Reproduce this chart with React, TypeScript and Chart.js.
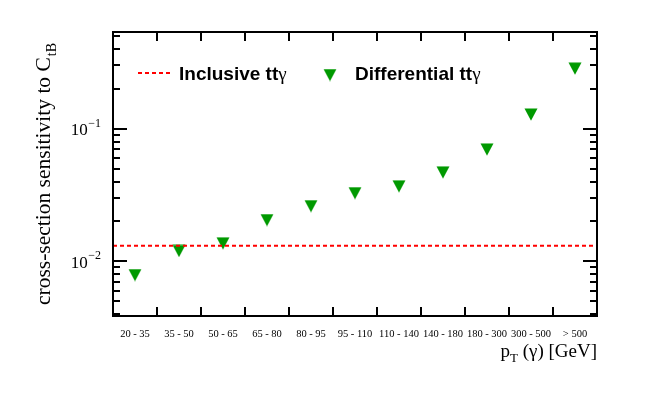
import React, { useEffect, useRef } from 'react';
import { Chart, registerables } from 'chart.js';
Chart.register(...registerables);

// ---- data ----
const binLabels = ['20 - 35', '35 - 50', '50 - 65', '65 - 80', '80 - 95', '95 - 110', '110 - 140', '140 - 180', '180 - 300', '300 - 500', '> 500'];
const differential = [0.0079, 0.0120, 0.0137, 0.0205, 0.0261, 0.0327, 0.0368, 0.0469, 0.0698, 0.128, 0.284];
const inclusive = 0.0131;
const yMin = 0.00388;
const yMax = 0.535;
const yLabelExponents = [-2, -1];

const GREEN = '#009900';
const RED = '#ff0000';
const SERIF = '"Liberation Serif", "Times New Roman", serif';
const SANS = '"Liberation Sans", Arial, sans-serif';

function makeMarker(): HTMLCanvasElement {
  const c = document.createElement('canvas');
  c.width = 14;
  c.height = 13;
  const g = c.getContext('2d')!;
  g.fillStyle = GREEN;
  g.beginPath();
  g.moveTo(0.5, 0.5);
  g.lineTo(13.5, 0.5);
  g.lineTo(7, 12.8);
  g.closePath();
  g.fill();
  return c;
}

export default function App() {
  const ref = useRef<HTMLCanvasElement>(null);
  useEffect(() => {
    const canvas = ref.current!;
    const marker = makeMarker();

    const rootStyle = {
      id: 'rootStyle',
      afterDraw(chart: any) {
        const ctx: CanvasRenderingContext2D = chart.ctx;
        const { left, right, top, bottom } = chart.chartArea;
        const xs = chart.scales.x;
        const ys = chart.scales.y;
        ctx.save();
        ctx.strokeStyle = '#000';
        ctx.lineWidth = 2;
        ctx.strokeRect(left, top, right - left, bottom - top);

        // y ticks (log)
        ctx.beginPath();
        for (let k = -4; k <= 0; k++) {
          for (let m = 1; m <= 9; m++) {
            const v = m * Math.pow(10, k);
            if (v < yMin || v > yMax) continue;
            const y = Math.round(ys.getPixelForValue(v));
            const len = m === 1 ? 14 : 7;
            ctx.moveTo(left, y);
            ctx.lineTo(left + len, y);
            ctx.moveTo(right, y);
            ctx.lineTo(right - len, y);
          }
        }
        // x ticks at bin edges
        for (let i = 1; i < binLabels.length; i++) {
          const x = Math.round(xs.getPixelForValue(i));
          ctx.moveTo(x, bottom);
          ctx.lineTo(x, bottom - 9);
          ctx.moveTo(x, top);
          ctx.lineTo(x, top + 9);
        }
        ctx.stroke();

        // x labels
        ctx.fillStyle = '#000';
        ctx.font = `10.5px ${SERIF}`;
        ctx.textAlign = 'center';
        ctx.textBaseline = 'alphabetic';
        binLabels.forEach((lab, i) => {
          ctx.fillText(lab, xs.getPixelForValue(i + 0.5), 336.5);
        });

        // y labels 10^k
        ctx.textAlign = 'left';
        yLabelExponents.forEach((e) => {
          const y = ys.getPixelForValue(Math.pow(10, e));
          const exp = '\u2212' + Math.abs(e);
          ctx.font = `12px ${SERIF}`;
          const we = ctx.measureText(exp).width;
          ctx.font = `17px ${SERIF}`;
          const wb = ctx.measureText('10').width;
          const xEnd = 101;
          const xe = xEnd - we;
          const xb = xe - wb - 0.5;
          ctx.fillText('10', xb, y + 6.5);
          ctx.font = `12px ${SERIF}`;
          ctx.fillText(exp, xe, y - 2);
        });

        // x title
        {
          const big = `19px ${SERIF}`;
          const small = `13px ${SERIF}`;
          ctx.font = big;
          const wp = ctx.measureText('p').width;
          const rest = ' (\u03b3) [GeV]';
          const wr = ctx.measureText(rest).width;
          ctx.font = small;
          const wt = ctx.measureText('T').width;
          const total = wp + wt + wr;
          let x = right - total;
          const base = 357;
          ctx.font = big;
          ctx.fillText('p', x, base);
          x += wp;
          ctx.font = small;
          ctx.fillText('T', x, base + 5);
          x += wt;
          ctx.font = big;
          ctx.fillText(rest, x, base);
        }

        // y title (rotated)
        {
          ctx.save();
          ctx.translate(50, 305);
          ctx.rotate(-Math.PI / 2);
          const big = `21.5px ${SERIF}`;
          const small = `14px ${SERIF}`;
          ctx.font = big;
          const main = 'cross-section sensitivity to C';
          const wm = ctx.measureText(main).width;
          ctx.fillText(main, 0, 0);
          ctx.font = small;
          ctx.fillText('tB', wm + 1, 5.5);
          ctx.restore();
        }

        // legend
        {
          const ly = 73;
          ctx.strokeStyle = RED;
          ctx.lineWidth = 2;
          ctx.setLineDash([4, 3]);
          ctx.beginPath();
          ctx.moveTo(138, ly);
          ctx.lineTo(173, ly);
          ctx.stroke();
          ctx.setLineDash([]);
          const base = 80;
          const drawEntry = (txt: string, x0: number) => {
            ctx.font = `bold 19px ${SANS}`;
            ctx.fillStyle = '#000';
            ctx.fillText(txt, x0, base);
            const w = ctx.measureText(txt).width;
            ctx.font = `19px ${SERIF}`;
            ctx.fillText('\u03b3', x0 + w, base);
          };
          drawEntry('Inclusive tt', 179);
          ctx.drawImage(marker, 330 - 7, 75 - 6.5);
          drawEntry('Differential tt', 355);
        }
        ctx.restore();
      },
    };

    const chart = new Chart(canvas, {
      type: 'scatter',
      data: {
        datasets: [
          {
            type: 'line',
            label: 'Inclusive tt\u03b3',
            data: [
              { x: 0, y: inclusive },
              { x: binLabels.length, y: inclusive },
            ],
            borderColor: RED,
            borderWidth: 2,
            borderDash: [4, 3],
            pointRadius: 0,
            fill: false,
          } as any,
          {
            label: 'Differential tt\u03b3',
            data: differential.map((v, i) => ({ x: i + 0.5, y: v })),
            pointStyle: marker as any,
            backgroundColor: GREEN,
            borderColor: GREEN,
          },
        ],
      },
      options: {
        responsive: false,
        animation: false,
        devicePixelRatio: 1,
        layout: { padding: { left: 113, right: 67, top: 32, bottom: 79 } },
        plugins: { legend: { display: false }, tooltip: { enabled: false } },
        scales: {
          x: { type: 'linear', min: 0, max: binLabels.length, display: false },
          y: { type: 'logarithmic', min: yMin, max: yMax, display: false },
        },
      },
      plugins: [rootStyle],
    });
    return () => chart.destroy();
  }, []);
  return (
    <canvas
      ref={ref}
      width={664}
      height={395}
      style={{ position: 'absolute', left: 0, top: 0, width: 664, height: 395 }}
    />
  );
}
